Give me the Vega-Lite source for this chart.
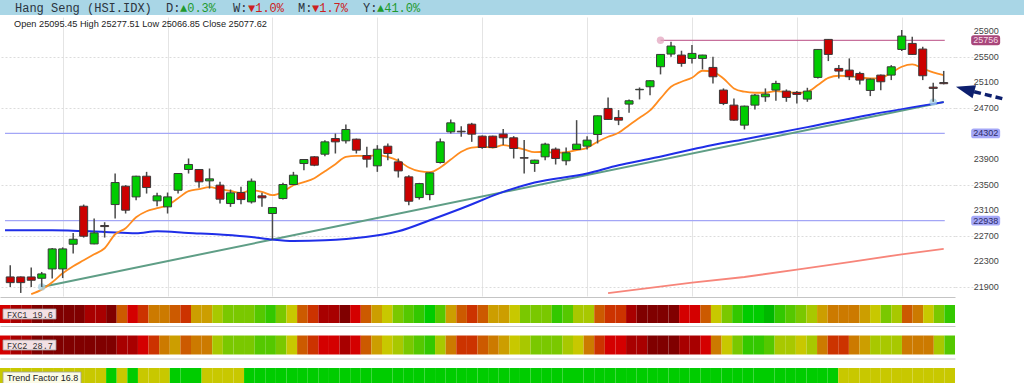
{
"$schema": "https://vega.github.io/schema/vega-lite/v6.json",
"padding": 0,
"background": "white",
"config": {"view": {"stroke": null}, "font": "Liberation Sans", "axis": {"labelOverlap": false}},
"datasets": {
"ohlc": [
{"i":1,"o":22058,"h":22241,"l":21902,"c":21969},
{"i":2,"o":22058,"h":22065,"l":21808,"c":21969},
{"i":3,"o":22058,"h":22204,"l":21902,"c":22006},
{"i":4,"o":22037,"h":22136,"l":21902,"c":22105},
{"i":5,"o":22183,"h":22512,"l":22032,"c":22496},
{"i":6,"o":22183,"h":22520,"l":22040,"c":22496},
{"i":7,"o":22569,"h":22746,"l":22423,"c":22647},
{"i":8,"o":23163,"h":23189,"l":22673,"c":22694},
{"i":9,"o":22574,"h":22970,"l":22569,"c":22746},
{"i":10,"o":22861,"h":22913,"l":22673,"c":22845},
{"i":11,"o":23189,"h":23674,"l":22970,"c":23533},
{"i":12,"o":23476,"h":23492,"l":23049,"c":23101},
{"i":13,"o":23309,"h":23640,"l":23257,"c":23632},
{"i":14,"o":23632,"h":23700,"l":23361,"c":23455},
{"i":15,"o":23247,"h":23372,"l":23163,"c":23325},
{"i":16,"o":23153,"h":23377,"l":23049,"c":23309},
{"i":17,"o":23413,"h":23680,"l":23361,"c":23674},
{"i":18,"o":23737,"h":23909,"l":23674,"c":23815},
{"i":19,"o":23737,"h":23745,"l":23450,"c":23544},
{"i":20,"o":23559,"h":23752,"l":23439,"c":23591},
{"i":21,"o":23492,"h":23544,"l":23205,"c":23273},
{"i":22,"o":23205,"h":23424,"l":23153,"c":23372},
{"i":23,"o":23377,"h":23466,"l":23194,"c":23267},
{"i":24,"o":23231,"h":23596,"l":23205,"c":23554},
{"i":25,"o":23325,"h":23372,"l":23153,"c":23294},
{"i":26,"o":23049,"h":23150,"l":22642,"c":23142},
{"i":27,"o":23283,"h":23528,"l":23268,"c":23502},
{"i":28,"o":23502,"h":23700,"l":23492,"c":23648},
{"i":29,"o":23830,"h":23900,"l":23726,"c":23893},
{"i":30,"o":23935,"h":23945,"l":23789,"c":23804},
{"i":31,"o":23976,"h":24195,"l":23945,"c":24169},
{"i":32,"o":24221,"h":24299,"l":23987,"c":24169},
{"i":33,"o":24185,"h":24440,"l":24143,"c":24362},
{"i":34,"o":24211,"h":24220,"l":23987,"c":24039},
{"i":35,"o":23955,"h":24091,"l":23768,"c":23898},
{"i":36,"o":23794,"h":24117,"l":23700,"c":24054},
{"i":37,"o":24101,"h":24143,"l":23882,"c":23987},
{"i":38,"o":23856,"h":23908,"l":23611,"c":23715},
{"i":39,"o":23622,"h":23648,"l":23179,"c":23241},
{"i":40,"o":23298,"h":23528,"l":23267,"c":23517},
{"i":41,"o":23345,"h":23690,"l":23257,"c":23684},
{"i":42,"o":23846,"h":24221,"l":23830,"c":24169},
{"i":43,"o":24325,"h":24518,"l":24299,"c":24466},
{"i":44,"o":24335,"h":24414,"l":24247,"c":24325},
{"i":45,"o":24445,"h":24466,"l":24169,"c":24289},
{"i":46,"o":24258,"h":24270,"l":24060,"c":24081},
{"i":47,"o":24258,"h":24265,"l":24070,"c":24081},
{"i":48,"o":24290,"h":24368,"l":24118,"c":24232},
{"i":49,"o":24232,"h":24258,"l":23909,"c":24065},
{"i":50,"o":23922,"h":24196,"l":23674,"c":23914},
{"i":51,"o":23831,"h":23890,"l":23700,"c":23883},
{"i":52,"o":23935,"h":24154,"l":23883,"c":24133},
{"i":53,"o":24055,"h":24081,"l":23815,"c":23909},
{"i":54,"o":23873,"h":24081,"l":23805,"c":23998},
{"i":55,"o":24050,"h":24508,"l":24045,"c":24133},
{"i":56,"o":24102,"h":24258,"l":24050,"c":24196},
{"i":57,"o":24284,"h":24580,"l":24144,"c":24576},
{"i":58,"o":24691,"h":24863,"l":24509,"c":24519},
{"i":59,"o":24550,"h":24665,"l":24430,"c":24508},
{"i":60,"o":24759,"h":24832,"l":24623,"c":24811},
{"i":61,"o":24983,"h":25019,"l":24832,"c":24990},
{"i":62,"o":25030,"h":25130,"l":24899,"c":25124},
{"i":63,"o":25343,"h":25540,"l":25223,"c":25535},
{"i":64,"o":25541,"h":25734,"l":25499,"c":25666},
{"i":65,"o":25525,"h":25593,"l":25343,"c":25395},
{"i":66,"o":25473,"h":25681,"l":25395,"c":25551},
{"i":67,"o":25473,"h":25530,"l":25301,"c":25525},
{"i":68,"o":25332,"h":25499,"l":25082,"c":25186},
{"i":69,"o":24978,"h":25004,"l":24743,"c":24769},
{"i":70,"o":24743,"h":24847,"l":24500,"c":24508},
{"i":71,"o":24430,"h":24735,"l":24363,"c":24727},
{"i":72,"o":24743,"h":24915,"l":24675,"c":24899},
{"i":73,"o":24873,"h":25004,"l":24795,"c":24915},
{"i":74,"o":24978,"h":25124,"l":24811,"c":25082},
{"i":75,"o":24962,"h":24988,"l":24795,"c":24863},
{"i":76,"o":24941,"h":24962,"l":24769,"c":24910},
{"i":77,"o":24837,"h":25014,"l":24795,"c":24962},
{"i":78,"o":25176,"h":25620,"l":25160,"c":25613},
{"i":79,"o":25770,"h":25775,"l":25431,"c":25535},
{"i":80,"o":25316,"h":25368,"l":25160,"c":25275},
{"i":81,"o":25290,"h":25473,"l":25134,"c":25186},
{"i":82,"o":25238,"h":25264,"l":25066,"c":25134},
{"i":83,"o":24972,"h":25160,"l":24884,"c":25149},
{"i":84,"o":25212,"h":25220,"l":24977,"c":25108},
{"i":85,"o":25212,"h":25368,"l":25134,"c":25342},
{"i":86,"o":25613,"h":25916,"l":25587,"c":25822},
{"i":87,"o":25707,"h":25812,"l":25525,"c":25535},
{"i":88,"o":25619,"h":25655,"l":25134,"c":25202},
{"i":89,"o":25024,"h":25092,"l":24795,"c":25004},
{"i":90,"o":25095.45,"h":25277.51,"l":25066.85,"c":25077.62}
],
"ma5": [
{"i":3,"v":21790},{"i":4,"v":21860},{"i":5,"v":21974},{"i":6,"v":22115},{"i":7,"v":22225},{"i":8,"v":22318},{"i":9,"v":22412},{"i":10,"v":22506},
{"i":11,"v":22725},{"i":12,"v":22819},{"i":13,"v":22991},{"i":14,"v":23085},{"i":15,"v":23132},{"i":16,"v":23179},{"i":17,"v":23288},{"i":18,"v":23398},{"i":19,"v":23429},{"i":20,"v":23460},
{"i":21,"v":23429},{"i":22,"v":23402},{"i":23,"v":23371},{"i":24,"v":23413},{"i":25,"v":23387},{"i":26,"v":23335},{"i":27,"v":23387},{"i":28,"v":23491},{"i":29,"v":23538},{"i":30,"v":23601},
{"i":31,"v":23710},{"i":32,"v":23820},{"i":33,"v":23934},{"i":34,"v":23950},{"i":35,"v":23950},{"i":36,"v":23960},{"i":37,"v":23934},{"i":38,"v":23872},{"i":39,"v":23768},{"i":40,"v":23710},
{"i":41,"v":23695},{"i":42,"v":23768},{"i":43,"v":23893},{"i":44,"v":24013},{"i":45,"v":24080},{"i":46,"v":24091},{"i":47,"v":24081},{"i":48,"v":24117},{"i":49,"v":24091},{"i":50,"v":24050},
{"i":51,"v":24008},{"i":52,"v":24013},{"i":53,"v":23998},{"i":54,"v":24008},{"i":55,"v":24039},{"i":56,"v":24076},{"i":57,"v":24170},{"i":58,"v":24248},{"i":59,"v":24310},{"i":60,"v":24430},
{"i":61,"v":24545},{"i":62,"v":24660},{"i":63,"v":24847},{"i":64,"v":25030},{"i":65,"v":25108},{"i":66,"v":25170},{"i":67,"v":25280},{"i":68,"v":25264},{"i":69,"v":25160},{"i":70,"v":25004},
{"i":71,"v":24952},{"i":72,"v":24936},{"i":73,"v":24936},{"i":74,"v":24962},{"i":75,"v":24946},{"i":76,"v":24936},{"i":77,"v":24951},{"i":78,"v":25056},{"i":79,"v":25170},{"i":80,"v":25202},
{"i":81,"v":25197},{"i":82,"v":25176},{"i":83,"v":25160},{"i":84,"v":25170},{"i":85,"v":25249},{"i":86,"v":25342},{"i":87,"v":25379},{"i":88,"v":25316},{"i":89,"v":25254},{"i":90,"v":25212}
],
"ma50": [
{"i":0.5,"v":22788},{"i":5,"v":22788},{"i":10,"v":22761},{"i":13,"v":22741},{"i":15,"v":22772},{"i":18,"v":22745},{"i":21,"v":22720},{"i":24,"v":22683},{"i":26,"v":22642},{"i":28,"v":22620},{"i":31,"v":22631},{"i":38,"v":22772},{"i":41,"v":22944},{"i":44,"v":23127},{"i":48,"v":23387},{"i":51,"v":23534},{"i":56,"v":23674},{"i":59,"v":23804},{"i":62,"v":23905},{"i":67,"v":24086},{"i":71,"v":24211},{"i":77,"v":24399},{"i":83,"v":24594},{"i":90,"v":24790}
],
"trend": [{"i":4,"v":21902},{"i":26,"v":22642},{"i":90,"v":24793}],
"ma200": [{"i":58,"v":21806},{"i":66,"v":21970},{"i":71,"v":22057},{"i":76,"v":22173},{"i":81,"v":22291},{"i":86,"v":22412},{"i":90,"v":22495}],
"ticks": [{"v":21900},{"v":22300},{"v":22700},{"v":23100},{"v":23500},{"v":23900},{"v":24700},{"v":25100},{"v":25500},{"v":25900}],
"levels": [
{"v":25756,"from":63,"to":90.1,"kind":"res","label":"25756"},
{"v":24302,"from":0.5,"to":90.1,"kind":"sup","label":"24302"},
{"v":22938,"from":0.5,"to":90.1,"kind":"sup","label":"22938"}
],
"marks": [
{"i":63,"v":25756,"kind":"res"},
{"i":4,"v":21902,"kind":"trend"},
{"i":89,"v":24790,"kind":"trend"}
],
"strip": [
{"i":1,"f1":3,"f2":3,"tf":8},{"i":2,"f1":2,"f2":2,"tf":8},{"i":3,"f1":2,"f2":2,"tf":8},{"i":4,"f1":1,"f2":1,"tf":8},{"i":5,"f1":1,"f2":1,"tf":8},
{"i":6,"f1":1,"f2":1,"tf":8},{"i":7,"f1":1,"f2":1,"tf":8},{"i":8,"f1":1,"f2":1,"tf":8},{"i":9,"f1":2,"f2":1,"tf":8},{"i":10,"f1":2,"f2":1,"tf":8},
{"i":11,"f1":1,"f2":1,"tf":13},{"i":12,"f1":5,"f2":2,"tf":8},{"i":13,"f1":3,"f2":2,"tf":13},{"i":14,"f1":4,"f2":3,"tf":8},{"i":15,"f1":6,"f2":4,"tf":8},
{"i":16,"f1":6,"f2":6,"tf":8},{"i":17,"f1":5,"f2":7,"tf":13},{"i":18,"f1":4,"f2":5,"tf":13},{"i":19,"f1":7,"f2":6,"tf":13},{"i":20,"f1":7,"f2":6,"tf":8},
{"i":21,"f1":9,"f2":9,"tf":8},{"i":22,"f1":10,"f2":10,"tf":8},{"i":23,"f1":10,"f2":10,"tf":8},{"i":24,"f1":10,"f2":10,"tf":13},{"i":25,"f1":11,"f2":11,"tf":13},
{"i":26,"f1":12,"f2":11,"tf":13},{"i":27,"f1":10,"f2":10,"tf":13},{"i":28,"f1":8,"f2":8,"tf":13},{"i":29,"f1":5,"f2":5,"tf":13},{"i":30,"f1":4,"f2":4,"tf":13},
{"i":31,"f1":2,"f2":3,"tf":13},{"i":32,"f1":2,"f2":3,"tf":13},{"i":33,"f1":1,"f2":2,"tf":13},{"i":34,"f1":3,"f2":3,"tf":13},{"i":35,"f1":5,"f2":5,"tf":13},
{"i":36,"f1":7,"f2":7,"tf":13},{"i":37,"f1":8,"f2":8,"tf":13},{"i":38,"f1":10,"f2":9,"tf":13},{"i":39,"f1":11,"f2":10,"tf":13},{"i":40,"f1":12,"f2":11,"tf":13},
{"i":41,"f1":13,"f2":12,"tf":13},{"i":42,"f1":11,"f2":9,"tf":13},{"i":43,"f1":7,"f2":6,"tf":13},{"i":44,"f1":5,"f2":4,"tf":13},{"i":45,"f1":4,"f2":4,"tf":13},
{"i":46,"f1":5,"f2":5,"tf":13},{"i":47,"f1":7,"f2":6,"tf":13},{"i":48,"f1":7,"f2":7,"tf":13},{"i":49,"f1":8,"f2":8,"tf":13},{"i":50,"f1":10,"f2":9,"tf":13},
{"i":51,"f1":10,"f2":10,"tf":13},{"i":52,"f1":10,"f2":10,"tf":13},{"i":53,"f1":12,"f2":10,"tf":13},{"i":54,"f1":11,"f2":9,"tf":13},{"i":55,"f1":9,"f2":8,"tf":13},
{"i":56,"f1":9,"f2":6,"tf":13},{"i":57,"f1":5,"f2":4,"tf":13},{"i":58,"f1":4,"f2":3,"tf":13},{"i":59,"f1":4,"f2":3,"tf":13},{"i":60,"f1":2,"f2":2,"tf":13},
{"i":61,"f1":1,"f2":2,"tf":13},{"i":62,"f1":1,"f2":1,"tf":13},{"i":63,"f1":1,"f2":1,"tf":13},{"i":64,"f1":1,"f2":1,"tf":13},{"i":65,"f1":3,"f2":2,"tf":13},
{"i":66,"f1":3,"f2":2,"tf":13},{"i":67,"f1":5,"f2":3,"tf":13},{"i":68,"f1":8,"f2":6,"tf":13},{"i":69,"f1":10,"f2":8,"tf":13},{"i":70,"f1":12,"f2":10,"tf":13},
{"i":71,"f1":13,"f2":12,"tf":13},{"i":72,"f1":13,"f2":12,"tf":13},{"i":73,"f1":14,"f2":11,"tf":13},{"i":74,"f1":12,"f2":9,"tf":13},{"i":75,"f1":11,"f2":9,"tf":13},
{"i":76,"f1":10,"f2":8,"tf":13},{"i":77,"f1":9,"f2":9,"tf":13},{"i":78,"f1":7,"f2":6,"tf":13},{"i":79,"f1":6,"f2":4,"tf":13},{"i":80,"f1":6,"f2":4,"tf":8},
{"i":81,"f1":6,"f2":6,"tf":8},{"i":82,"f1":7,"f2":7,"tf":8},{"i":83,"f1":8,"f2":9,"tf":8},{"i":84,"f1":10,"f2":9,"tf":8},{"i":85,"f1":9,"f2":9,"tf":8},
{"i":86,"f1":5,"f2":6,"tf":8},{"i":87,"f1":6,"f2":6,"tf":8},{"i":88,"f1":8,"f2":6,"tf":8},{"i":89,"f1":10,"f2":9,"tf":8},{"i":90,"f1":12,"f2":11,"tf":8}
]
},
"spacing": 7,
"vconcat": [
{
"spacing": 2,
"vconcat": [
{
"width": 1024, "height": 15,
"view": {"fill": "#a9d6e6", "stroke": null},
"data": {"values": [{"t": "Hang Seng (HSI.IDX)", "p": "name"}]},
"layer": [
{"mark": {"type": "text", "x": 15, "y": 8, "align": "left", "baseline": "middle", "font": "Liberation Mono", "fontSize": 12, "color": "#2b3440"}, "encoding": {"text": {"value": "Hang Seng (HSI.IDX)"}}},
{"mark": {"type": "text", "x": 166, "y": 8, "align": "left", "baseline": "middle", "font": "Liberation Mono", "fontSize": 12, "color": "#2b3440"}, "encoding": {"text": {"value": "D:"}}},
{"mark": {"type": "text", "x": 180, "y": 8, "align": "left", "baseline": "middle", "font": "Liberation Mono", "fontSize": 12, "color": "#1f9a2e"}, "encoding": {"text": {"value": "▲0.3%"}}},
{"mark": {"type": "text", "x": 233, "y": 8, "align": "left", "baseline": "middle", "font": "Liberation Mono", "fontSize": 12, "color": "#2b3440"}, "encoding": {"text": {"value": "W:"}}},
{"mark": {"type": "text", "x": 248, "y": 8, "align": "left", "baseline": "middle", "font": "Liberation Mono", "fontSize": 12, "color": "#cc2020"}, "encoding": {"text": {"value": "▼1.0%"}}},
{"mark": {"type": "text", "x": 298, "y": 8, "align": "left", "baseline": "middle", "font": "Liberation Mono", "fontSize": 12, "color": "#2b3440"}, "encoding": {"text": {"value": "M:"}}},
{"mark": {"type": "text", "x": 312, "y": 8, "align": "left", "baseline": "middle", "font": "Liberation Mono", "fontSize": 12, "color": "#cc2020"}, "encoding": {"text": {"value": "▼1.7%"}}},
{"mark": {"type": "text", "x": 363, "y": 8, "align": "left", "baseline": "middle", "font": "Liberation Mono", "fontSize": 12, "color": "#2b3440"}, "encoding": {"text": {"value": "Y:"}}},
{"mark": {"type": "text", "x": 377, "y": 8, "align": "left", "baseline": "middle", "font": "Liberation Mono", "fontSize": 12, "color": "#1f9a2e"}, "encoding": {"text": {"value": "▲41.0%"}}}
]
},
{
"width": 955, "height": 279,
"layer": [
{"data": {"name": "levels"}, "mark": {"type": "rule", "strokeWidth": 1.2},
 "encoding": {
  "x": {"field": "from", "type": "quantitative", "scale": {"domain": [0.5, 90.6], "nice": false, "zero": false},
        "axis": {"values": [6,16,26,36,46,56,66,76,86], "grid": true, "gridColor": "#e4e4e4", "labels": false, "ticks": false, "domain": true, "domainColor": "#c4c4c4", "offset": 1, "title": null}},
  "x2": {"field": "to"},
  "y": {"field": "v", "type": "quantitative", "scale": {"domain": [21760, 26120], "nice": false, "zero": false},
        "axis": {"orient": "right", "values": [21900,22300,22700,23100,23500,23900,24700,25100,25500,25900], "labels": false, "grid": true, "gridColor": "#dcdcdc", "gridDash": [2,2], "tickSize": 20, "tickColor": "#dcdcdc", "tickDash": [2,2], "domain": false, "title": null}},
  "color": {"condition": {"test": "datum.kind === 'res'", "value": "#c7709c"}, "value": "#a3a6f6"}
 }},
{"data": {"name": "ticks"}, "mark": {"type": "text", "font": "Liberation Sans", "fontSize": 9, "align": "left", "baseline": "middle", "color": "#444444"},
 "encoding": {"x": {"datum": 92.87, "type": "quantitative"}, "y": {"field": "v", "type": "quantitative"}, "text": {"field": "v", "type": "quantitative", "format": "d"}}},
{"data": {"name": "ma200"}, "mark": {"type": "line", "color": "#f7857a", "strokeWidth": 1.8},
 "encoding": {"x": {"field": "i", "type": "quantitative"}, "y": {"field": "v", "type": "quantitative"}}},
{"data": {"name": "trend"}, "mark": {"type": "line", "color": "#5f9e86", "strokeWidth": 2},
 "encoding": {"x": {"field": "i", "type": "quantitative"}, "y": {"field": "v", "type": "quantitative"}}},
{"data": {"name": "ma50"}, "mark": {"type": "line", "color": "#1f2ee8", "strokeWidth": 2, "interpolate": "monotone"},
 "encoding": {"x": {"field": "i", "type": "quantitative"}, "y": {"field": "v", "type": "quantitative"}}},
{"data": {"name": "ma5"}, "mark": {"type": "line", "color": "#ff8c1f", "strokeWidth": 1.8, "interpolate": "monotone"},
 "encoding": {"x": {"field": "i", "type": "quantitative"}, "y": {"field": "v", "type": "quantitative"}}},
{"data": {"name": "marks"}, "mark": {"type": "point", "filled": true, "size": 55, "opacity": 0.75},
 "encoding": {"x": {"field": "i", "type": "quantitative"}, "y": {"field": "v", "type": "quantitative"},
  "color": {"condition": {"test": "datum.kind === 'res'", "value": "#e3a6bf"}, "value": "#a6d2e6"}}},
{"data": {"name": "ohlc"}, "mark": {"type": "rule", "color": "#4a4a4a", "strokeWidth": 1.5},
 "encoding": {"x": {"field": "i", "type": "quantitative"}, "y": {"field": "l", "type": "quantitative"}, "y2": {"field": "h"}}},
{"data": {"name": "ohlc"}, "mark": {"type": "bar", "orient": "vertical", "size": 8, "stroke": "#3a3a3a", "strokeWidth": 1},
 "encoding": {"x": {"field": "i", "type": "quantitative"}, "y": {"field": "o", "type": "quantitative"}, "y2": {"field": "c"},
  "fill": {"condition": {"test": "datum.c >= datum.o", "value": "#00cc00"}, "value": "#cc0000"}}},
{"data": {"name": "levels"}, "mark": {"type": "point", "filled": true, "opacity": 1, "size": 841, "shape": "M-0.82,-0.34L0.82,-0.34Q1,-0.34 1,-0.16L1,0.16Q1,0.34 0.82,0.34L-0.82,0.34Q-1,0.34 -1,0.16L-1,-0.16Q-1,-0.34 -0.82,-0.34Z"},
 "encoding": {"x": {"datum": 94.0, "type": "quantitative"}, "y": {"field": "v", "type": "quantitative"},
  "color": {"condition": {"test": "datum.kind === 'res'", "value": "#a8467a"}, "value": "#a4a7f7"}}},
{"data": {"name": "levels"}, "mark": {"type": "text", "font": "Liberation Sans", "fontSize": 9, "align": "center", "baseline": "middle"},
 "encoding": {"x": {"datum": 94.0, "type": "quantitative"}, "y": {"field": "v", "type": "quantitative"}, "text": {"field": "label"},
  "color": {"condition": {"test": "datum.kind === 'res'", "value": "#f4d8e6"}, "value": "#2c2c66"}}},
{"data": {"values": [{"x1": 92.9, "x2": 95.79, "y1": 24952, "y2": 24837}]}, "mark": {"type": "rule", "color": "#0d1f6e", "strokeWidth": 3.5, "strokeDash": [7,4]},
 "encoding": {"x": {"field": "x1", "type": "quantitative"}, "x2": {"field": "x2"}, "y": {"field": "y1", "type": "quantitative"}, "y2": {"field": "y2"}}},
{"data": {"values": [{"i": 92.04, "v": 24990}]}, "mark": {"type": "point", "filled": true, "opacity": 1, "color": "#0d1f6e", "size": 361, "angle": 15, "shape": "M-1,0L1,-0.7L1,0.7Z"},
 "encoding": {"x": {"field": "i", "type": "quantitative"}, "y": {"field": "v", "type": "quantitative"}}},
{"data": {"values": [{"t": "Open 25095.45  High 25277.51  Low 25066.85  Close 25077.62"}]}, "mark": {"type": "text", "x": 14, "y": 7, "align": "left", "baseline": "middle", "font": "Liberation Sans", "fontSize": 9.2, "color": "#222222"},
 "encoding": {"text": {"field": "t"}}}
]
}
]
},
{
"spacing": 9.5,
"vconcat": [
{
"width": 955, "height": 18,
"layer": [
{"data": {"name": "strip"}, "mark": {"type": "rect"},
 "encoding": {"x": {"field": "i", "type": "ordinal", "scale": {"paddingInner": 0, "paddingOuter": 0}, "axis": {"labels": false, "ticks": false, "title": null, "domain": true, "domainColor": "#c8c8c8", "offset": 3}},
  "fill": {"field": "f1", "type": "ordinal", "scale": {"domain": [1,2,3,4,5,6,7,8,9,10,11,12,13,14], "range": ["#800000","#a80000","#d40000","#cc3300","#cc5a00","#cc7a00","#cc9e00","#c8c800","#a8c800","#7ac800","#55c800","#33c800","#00cc00","#00b800"]}, "legend": null}}},
{"data": {"values": [{"t": "FXC1 19.6"}]}, "mark": {"type": "rect", "x": 3, "x2": 56, "y": 4, "y2": 14, "fill": "#f3e0e4", "stroke": "#a0a0a0", "strokeWidth": 0.8}, "encoding": {}},
{"data": {"values": [{"t": "FXC1 19.6"}]}, "mark": {"type": "text", "x": 7, "y": 9.5, "align": "left", "baseline": "middle", "font": "Liberation Mono", "fontSize": 8.5, "color": "#333333"}, "encoding": {"text": {"field": "t"}}}
]
},
{
"width": 955, "height": 19,
"layer": [
{"data": {"name": "strip"}, "mark": {"type": "rect"},
 "encoding": {"x": {"field": "i", "type": "ordinal", "scale": {"paddingInner": 0, "paddingOuter": 0}, "axis": {"labels": false, "ticks": false, "title": null, "domain": true, "domainColor": "#c8c8c8", "offset": 4}},
  "fill": {"field": "f2", "type": "ordinal", "scale": {"domain": [1,2,3,4,5,6,7,8,9,10,11,12,13,14], "range": ["#800000","#a80000","#d40000","#cc3300","#cc5a00","#cc7a00","#cc9e00","#c8c800","#a8c800","#7ac800","#55c800","#33c800","#00cc00","#00b800"]}, "legend": null}}},
{"data": {"values": [{"t": "FXC2 28.7"}]}, "mark": {"type": "rect", "x": 3, "x2": 56, "y": 4.5, "y2": 14.5, "fill": "#f3e0e4", "stroke": "#a0a0a0", "strokeWidth": 0.8}, "encoding": {}},
{"data": {"values": [{"t": "FXC2 28.7"}]}, "mark": {"type": "text", "x": 7, "y": 10, "align": "left", "baseline": "middle", "font": "Liberation Mono", "fontSize": 8.5, "color": "#333333"}, "encoding": {"text": {"field": "t"}}}
]
},
{
"width": 955, "height": 19,
"layer": [
{"data": {"name": "strip"}, "mark": {"type": "rect"},
 "encoding": {"x": {"field": "i", "type": "ordinal", "scale": {"paddingInner": 0, "paddingOuter": 0}, "axis": null},
  "fill": {"field": "tf", "type": "ordinal", "scale": {"domain": [1,2,3,4,5,6,7,8,9,10,11,12,13,14], "range": ["#800000","#a80000","#d40000","#cc3300","#cc5a00","#cc7a00","#cc9e00","#c8c800","#a8c800","#7ac800","#55c800","#33c800","#00cc00","#00b800"]}, "legend": null}}},
{"data": {"values": [{"t": "Trend Factor 16.8"}]}, "mark": {"type": "rect", "x": 3, "x2": 81, "y": 4, "y2": 16, "fill": "#fbfbe6", "stroke": "#a0a0a0", "strokeWidth": 0.8}, "encoding": {}},
{"data": {"values": [{"t": "Trend Factor 16.8"}]}, "mark": {"type": "text", "x": 7, "y": 10, "align": "left", "baseline": "middle", "font": "Liberation Sans", "fontSize": 9, "color": "#222222"}, "encoding": {"text": {"field": "t"}}}
]
}
]
}
]
}
